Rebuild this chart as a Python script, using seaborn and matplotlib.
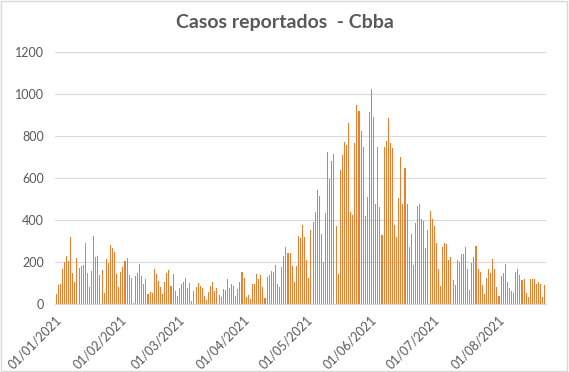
import numpy as np
import pandas as pd
import seaborn as sns
import matplotlib.pyplot as plt
from matplotlib.patches import Rectangle

# daily reported cases
ene = [49, 92, 97, 168, 202, 230, 206, 321, 149, 106, 221, 173, 183, 187, 292, 149,
       83, 159, 325, 225, 230, 140, 163, 54, 216, 197, 282, 268, 249, 144, 83]
feb = [154, 178, 206, 221, 140, 125, 6, 135, 149, 192, 135, 97, 121, 49, 59, 54,
       168, 144, 111, 83, 49, 106, 149, 163, 87, 144, 63, 40]
mar = [78, 97, 106, 125, 78, 102, 16, 63, 83, 102, 87, 78, 40, 21, 59, 87, 106, 63,
       78, 44, 35, 73, 68, 121, 78, 97, 87, 40, 73, 106, 154]
abr = [125, 35, 44, 25, 97, 97, 144, 121, 140, 83, 30, 130, 140, 159, 154, 187, 97,
       83, 178, 230, 273, 244, 244, 183, 106, 183, 325, 316, 378, 321]
may = [211, 125, 354, 392, 440, 544, 516, 335, 202, 435, 725, 597, 682, 716, 373,
       144, 640, 711, 773, 759, 863, 440, 425, 768, 949, 920, 825, 749, 421, 511, 916]
jun = [1025, 892, 478, 749, 463, 330, 749, 778, 887, 768, 744, 378, 321, 506, 701,
       478, 649, 478, 273, 335, 187, 387, 468, 478, 406, 397, 268, 354, 444, 406]
jul = [373, 292, 168, 87, 273, 292, 287, 211, 225, 116, 92, 211, 202, 240, 240, 273,
       168, 68, 197, 225, 278, 168, 154, 92, 49, 125, 168, 149, 216, 168, 83]
ago = [40, 135, 149, 192, 106, 78, 63, 54, 154, 168, 140, 116, 121, 54, 35, 121, 121,
       121, 97, 106, 97, 35, 92]

casos = ene + feb + mar + abr + may + jun + jul + ago
fechas = pd.date_range('2021-01-01', periods=len(casos), freq='D')
df = pd.DataFrame({'dia': np.arange(len(casos)), 'fecha': fechas, 'casos': casos})

# month starts for the x ticks
inicios = df.index[df['fecha'].dt.day == 1]
etiquetas = df.loc[inicios, 'fecha'].dt.strftime('%d/%m/%Y')

sns.set_style('white')
plt.rcParams['font.family'] = ['Lato', 'DejaVu Sans']

gris = '#595959'
fig = plt.figure(figsize=(5.69, 3.72), dpi=100)
ax = fig.add_axes([0.0967, 0.1828, 0.8629, 0.6774])

sns.barplot(data=df, x='dia', y='casos', native_scale=True, width=0.5,
            color='#ED7D31', saturation=1, linewidth=0, edgecolor='none', ax=ax)

ax.set_xlim(-0.5, len(casos) - 0.5)
ax.set_ylim(0, 1200)
ax.set_yticks(range(0, 1201, 200))
ax.yaxis.grid(True, color='#D9D9D9', linewidth=0.8)
ax.set_axisbelow(True)

ax.set_xticks(np.array(inicios) - 0.5)
ax.set_xticklabels(etiquetas, rotation=45, ha='right', rotation_mode='anchor')
ax.tick_params(axis='x', length=4, color='#D9D9D9', colors=gris, labelsize=9, pad=3)
ax.tick_params(axis='y', length=0, colors=gris, labelsize=9, pad=8)

for s in ['top', 'right', 'left']:
    ax.spines[s].set_visible(False)
ax.spines['bottom'].set_color('#D9D9D9')
ax.set_xlabel('')
ax.set_ylabel('')

fig.text(0.5, 0.94, 'Casos reportados  - Cbba', ha='center', va='center',
         fontsize=14, fontweight='bold', color=gris)
fig.patches.append(Rectangle((0.002, 0.003), 0.995, 0.994, transform=fig.transFigure,
                             fill=False, edgecolor='#D9D9D9', linewidth=1))

fig.savefig('out.png', dpi=100)
